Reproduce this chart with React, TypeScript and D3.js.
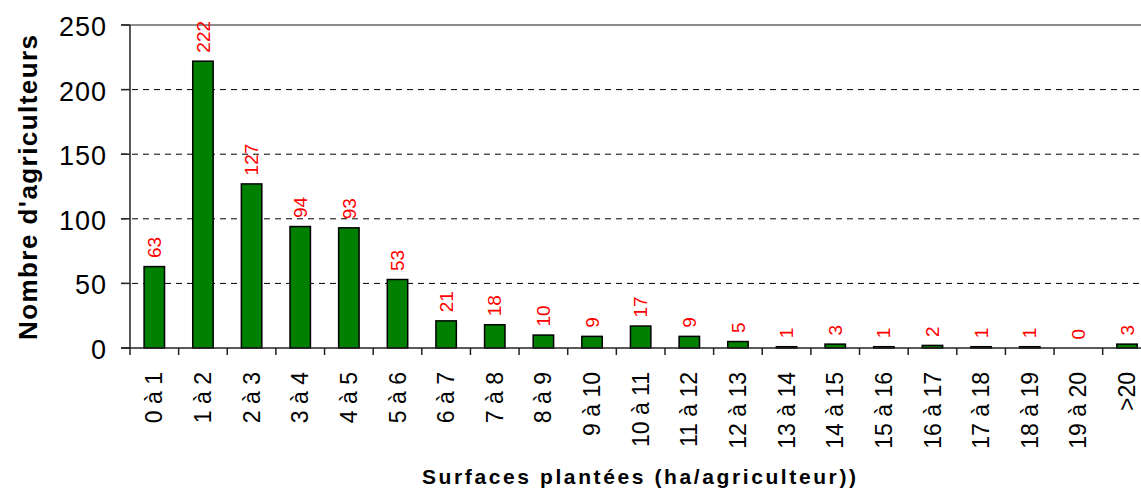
import * as d3 from 'd3';
import React, { useEffect, useRef } from 'react';

const categories = [
  '0 à 1', '1 à 2', '2 à 3', '3 à 4', '4 à 5', '5 à 6', '6 à 7', '7 à 8',
  '8 à 9', '9 à 10', '10 à 11', '11 à 12', '12 à 13', '13 à 14', '14 à 15',
  '15 à 16', '16 à 17', '17 à 18', '18 à 19', '19 à 20', '>20',
];
const values = [63, 222, 127, 94, 93, 53, 21, 18, 10, 9, 17, 9, 5, 1, 3, 1, 2, 1, 1, 0, 3];
const yTicks = [0, 50, 100, 150, 200, 250];

const xTitle = 'Surfaces plantées (ha/agriculteur))';
const yTitle = "Nombre d'agriculteurs";

const W = 1141;
const H = 491;
const FONT = "Arial, 'Liberation Sans', sans-serif";

const App = () => {
  const svgRef = useRef(null);

  useEffect(() => {
    const svg = d3.select(svgRef.current);
    svg.selectAll('*').remove();

    const left = 130;
    const step = 48.635;
    const x = d3
      .scaleBand()
      .domain(categories)
      .range([left, left + step * categories.length])
      .paddingInner(0.58)
      .paddingOuter(0.29);

    const y = d3.scaleLinear().domain([0, 250]).range([348, 25]);

    // gridlines
    svg
      .selectAll('.grid')
      .data(yTicks.filter((t) => t > 0 && t < 250))
      .enter()
      .append('line')
      .attr('x1', left - 9)
      .attr('x2', W)
      .attr('y1', (d) => y(d))
      .attr('y2', (d) => y(d))
      .attr('stroke', '#000')
      .attr('stroke-width', 1)
      .attr('stroke-dasharray', '6,5');

    // top line (250)
    svg
      .append('line')
      .attr('x1', left - 9)
      .attr('x2', W)
      .attr('y1', y(250))
      .attr('y2', y(250))
      .attr('stroke', '#8c8c8c')
      .attr('stroke-width', 2);

    // bars
    svg
      .selectAll('.bar')
      .data(values)
      .enter()
      .append('rect')
      .attr('x', (d, i) => x(categories[i]))
      .attr('width', x.bandwidth())
      .attr('y', (d) => y(d))
      .attr('height', (d) => y(0) - y(d))
      .attr('fill', '#008000')
      .attr('stroke', '#000')
      .attr('stroke-width', 1.5);

    // data labels
    svg
      .selectAll('.lbl')
      .data(values)
      .enter()
      .append('text')
      .attr('transform', (d, i) => {
        const cx = x(categories[i]) + x.bandwidth() / 2;
        return `translate(${cx},${y(d) - 8.5}) rotate(-90)`;
      })
      .attr('dy', '0.35em')
      .attr('fill', '#ff0000')
      .attr('font-size', 19)
      .attr('font-family', FONT)
      .text((d) => d);

    // y axis
    svg
      .append('line')
      .attr('x1', left)
      .attr('x2', left)
      .attr('y1', y(250))
      .attr('y2', y(0))
      .attr('stroke', '#222')
      .attr('stroke-width', 1.5);
    svg
      .selectAll('.ytick')
      .data(yTicks)
      .enter()
      .append('line')
      .attr('x1', left - 9)
      .attr('x2', left)
      .attr('y1', (d) => y(d))
      .attr('y2', (d) => y(d))
      .attr('stroke', '#222')
      .attr('stroke-width', 1.5);
    svg
      .selectAll('.ylab')
      .data(yTicks)
      .enter()
      .append('text')
      .attr('x', 107)
      .attr('y', (d) => y(d) + 11)
      .attr('text-anchor', 'end')
      .attr('font-size', 27)
      .attr('letter-spacing', 1)
      .attr('font-family', FONT)
      .attr('fill', '#000')
      .text((d) => d);

    // x axis
    svg
      .append('line')
      .attr('x1', left - 9)
      .attr('x2', W)
      .attr('y1', y(0))
      .attr('y2', y(0))
      .attr('stroke', '#222')
      .attr('stroke-width', 1.5);
    svg
      .selectAll('.xtick')
      .data(d3.range(categories.length + 1))
      .enter()
      .append('line')
      .attr('x1', (i) => left + i * step)
      .attr('x2', (i) => left + i * step)
      .attr('y1', y(0))
      .attr('y2', y(0) + 7)
      .attr('stroke', '#222')
      .attr('stroke-width', 1.5);
    svg
      .selectAll('.xlab')
      .data(categories)
      .enter()
      .append('text')
      .attr('transform', (d) => `translate(${x(d) + x.bandwidth() / 2},372) rotate(-90)`)
      .attr('dy', '0.35em')
      .attr('text-anchor', 'end')
      .attr('font-size', 23)
      .attr('font-family', FONT)
      .attr('fill', '#000')
      .text((d) => d);

    // titles
    svg
      .append('text')
      .attr('x', 422)
      .attr('y', 484)
      .attr('font-size', 21)
      .attr('font-weight', 'bold')
      .attr('font-family', FONT)
      .attr('textLength', 434)
      .attr('lengthAdjust', 'spacing')
      .text(xTitle);

    svg
      .append('text')
      .attr('transform', 'translate(37,340) rotate(-90)')
      .attr('font-size', 26)
      .attr('font-weight', 'bold')
      .attr('font-family', FONT)
      .attr('textLength', 305)
      .attr('lengthAdjust', 'spacing')
      .text(yTitle);
  }, []);

  return (
    <div>
      <style>{'body{margin:0;}'}</style>
      <svg ref={svgRef} width={W} height={H} style={{ display: 'block', background: '#fff' }}></svg>
    </div>
  );
};

export default App;
